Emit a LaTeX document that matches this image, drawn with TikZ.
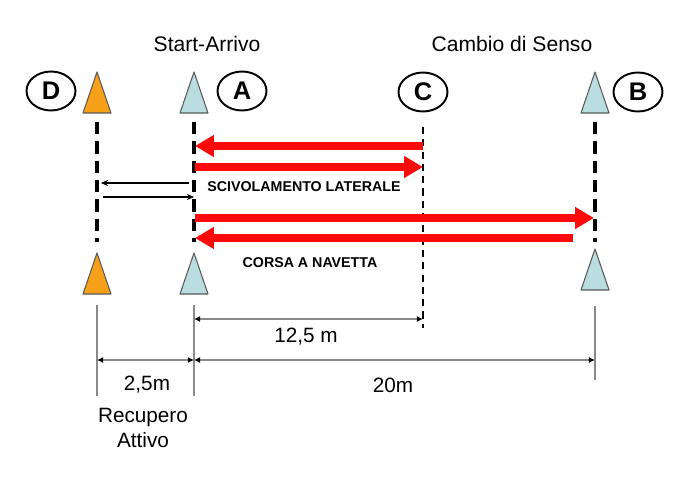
\documentclass[tikz,border=0pt]{standalone}
\usepackage{fontspec}
\setmainfont{Liberation Sans}
\usetikzlibrary{arrows.meta, shapes.geometric}
\definecolor{coneorange}{HTML}{F7A11A}
\definecolor{coneblue}{HTML}{B9DDE0}
\definecolor{runred}{HTML}{FF0A0A}
\definecolor{dimgray}{HTML}{8A8A8A}

\begin{document}
\begin{tikzpicture}[x=0.02cm, y=-0.02cm,
    letter/.style={draw, ellipse, line width=1.1pt, minimum width=0.98cm, minimum height=0.78cm,
      inner sep=0pt, font=\bfseries\fontsize{14.5}{14.5}\selectfont},
    heading/.style={font=\fontsize{12}{13}\selectfont},
    drill/.style={font=\bfseries\fontsize{8.1}{9}\selectfont},
    dimtext/.style={font=\fontsize{11.8}{14.7}\selectfont, align=center},
    cone/.style={draw=black!65, line width=0.6pt, line join=round},
    laneline/.style={line width=1.8pt, dash pattern=on 7pt off 4pt},
    runarrow/.style={runred, line width=4.5pt, -{Triangle[length=0.38cm,width=0.42cm]}},
    shift arrow/.style={line width=0.6pt, -{Stealth[length=4pt,width=3.5pt]}},
    dimline/.style={dimgray, line width=1.1pt, {Latex[length=3.5pt,width=3.5pt,color=black]}-{Latex[length=3.5pt,width=3.5pt,color=black]}},
    extline/.style={dimgray, line width=0.9pt}]
  \useasboundingbox (0,0) rectangle (676,480);

  % headings
  \node[heading] (start) at (207,44) {Start-Arrivo};
  \node[heading] (cambio) at (512,44) {Cambio di Senso};

  % cone letters
  \node[letter] (labD) at (51,91) {D};
  \node[letter] (labA) at (242,91) {A};
  \node[letter] (labC) at (423,92) {C};
  \node[letter] (labB) at (638,92) {B};

  % cones, top and bottom row
  \foreach \x/\col/\ya/\yb in {97/coneorange/253/294, 194/coneblue/253/294, 595/coneblue/249/290} {
    \filldraw[cone, fill=\col] (\x-14,113) -- (\x,72) -- (\x+14,113) -- cycle;
    \filldraw[cone, fill=\col] (\x-14,\yb) -- (\x,\ya) -- (\x+14,\yb) -- cycle;
  }

  % lanes
  \coordinate (Dtop) at (97,122);   \coordinate (Dbot) at (97,242);
  \coordinate (Atop) at (194,122);  \coordinate (Abot) at (194,242);
  \coordinate (Btop) at (595,122);  \coordinate (Bbot) at (595,242);
  \coordinate (Ctop) at (423,127);  \coordinate (Cbot) at (423,328);
  \draw[laneline] (Dtop) -- (Dbot);
  \draw[laneline] (Atop) -- (Abot);
  \draw[laneline] (Btop) -- (Bbot);
  \draw[line width=1.1pt, dash pattern=on 4pt off 3pt] (Ctop) -- (Cbot);

  % shuttle runs
  \coordinate (c1) at (423,146);  \coordinate (a1) at (195,146);
  \coordinate (a2) at (195,167);  \coordinate (c2) at (423,167);
  \coordinate (a3) at (195,218);  \coordinate (b3) at (594,218);
  \coordinate (b4) at (573,238);  \coordinate (a4) at (195,238);
  \draw[runarrow] (c1) -- (a1);
  \draw[runarrow] (a2) -- (c2);
  \draw[runarrow] (a3) -- (b3);
  \draw[runarrow] (b4) -- (a4);
  \node[drill] (scivolo) at (304,187) {SCIVOLAMENTO LATERALE};
  \node[drill] (navetta) at (310,263) {CORSA A NAVETTA};

  % active recovery
  \coordinate (rA1) at (189,183);  \coordinate (rD1) at (101,183);
  \coordinate (rD2) at (103,197);  \coordinate (rA2) at (194,197);
  \draw[shift arrow] (rA1) -- (rD1);
  \draw[shift arrow] (rD2) -- (rA2);

  % dimensions
  \coordinate (eD) at (97,305);  \coordinate (eD2) at (97,396);
  \coordinate (eA) at (194,305); \coordinate (eA2) at (194,396);
  \coordinate (eB) at (595,306); \coordinate (eB2) at (595,380);
  \draw[extline] (eD) -- (eD2);
  \draw[extline] (eA) -- (eA2);
  \draw[extline] (eB) -- (eB2);
  \coordinate (m1) at (194,319); \coordinate (m2) at (423,319);
  \coordinate (m3) at (97,360);  \coordinate (m4) at (194,360);
  \coordinate (m5) at (595,360);
  \draw[dimline] (m1) -- (m2);
  \draw[dimline] (m3) -- (m4);
  \draw[dimline] (m4) -- (m5);
  \node[dimtext] (d125) at (306,337) {12,5 m};
  \node[dimtext] (d25) at (147,385) {2,5m};
  \node[dimtext] (d20) at (393,385) {20m};
  \node[dimtext] (recup) at (143,428) {Recupero\\Attivo};
\end{tikzpicture}
\end{document}
